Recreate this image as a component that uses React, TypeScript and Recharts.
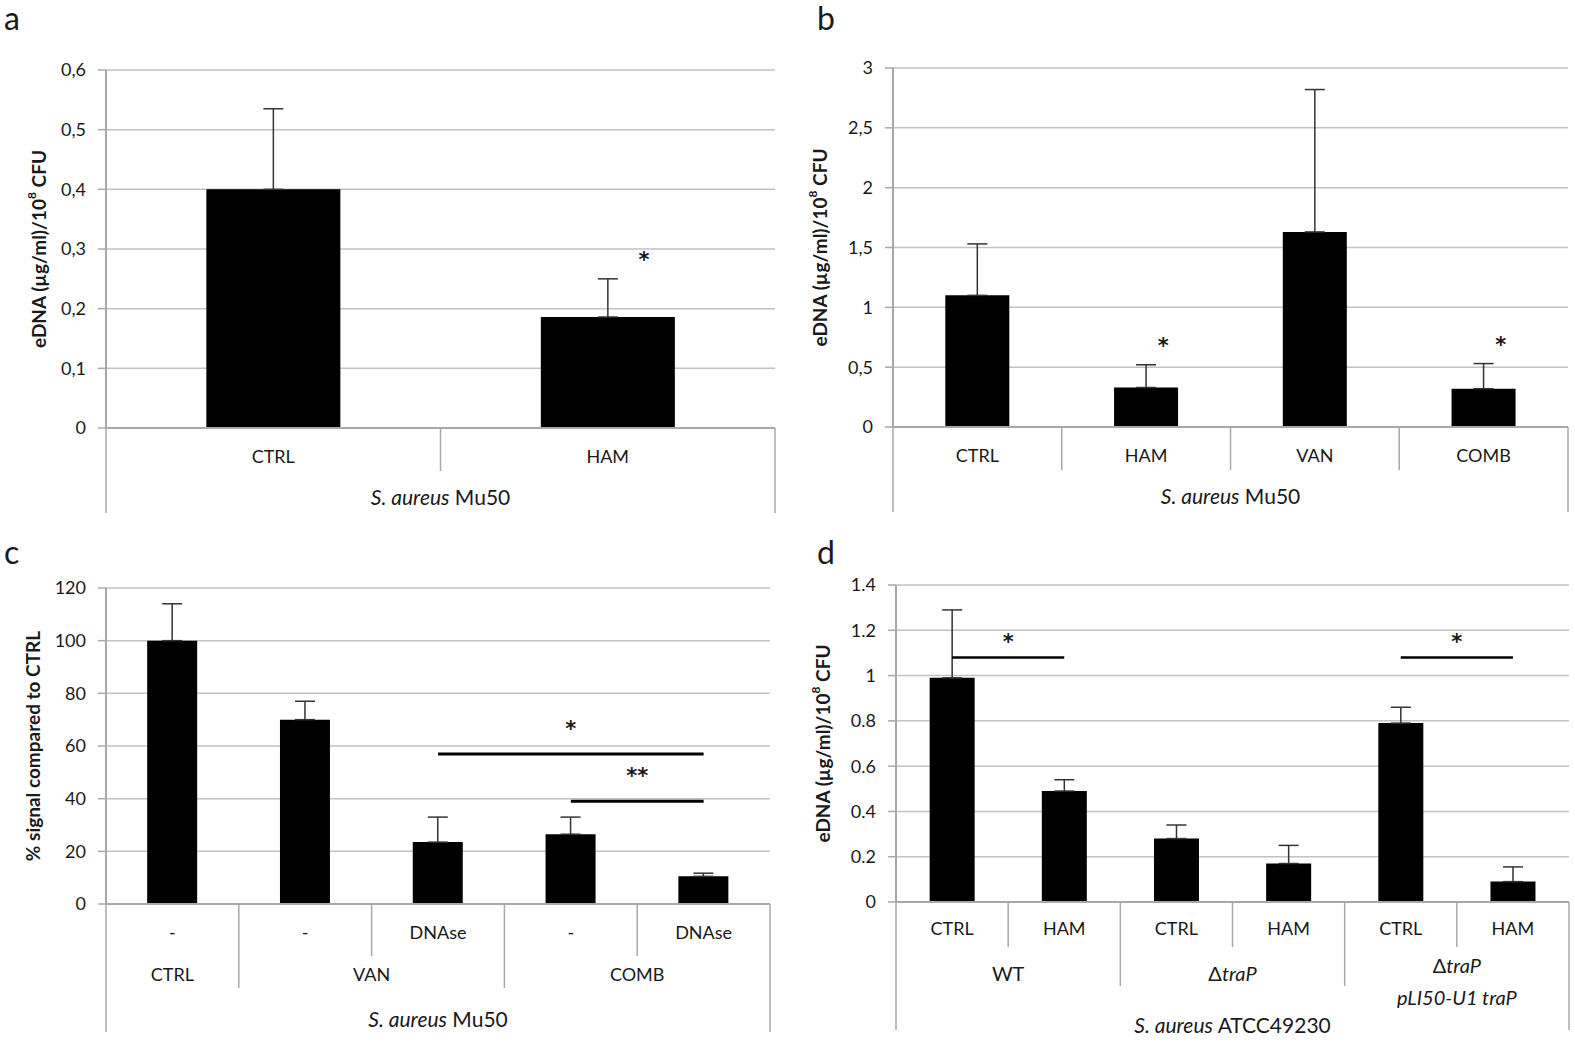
import React from 'react';
import { BarChart, Bar, XAxis, YAxis, CartesianGrid, ErrorBar, ReferenceLine, LabelList } from 'recharts';

const FONT = 'Lato, "Open Sans", sans-serif';
const STAR_FONT = '"DejaVu Sans", sans-serif';
const GRID = '#c2c2c2';
const AXIS = '#a8a8a8';
const INK = '#1a1a1a';

// panel a
const aCats = ['CTRL', 'HAM'];
const aMeans = [0.4, 0.186];
const aErrs = [0.135, 0.064];
const aSig = ['', '*'];
const aTicks = [0, 0.1, 0.2, 0.3, 0.4, 0.5, 0.6];

// panel b
const bCats = ['CTRL', 'HAM', 'VAN', 'COMB'];
const bMeans = [1.1, 0.33, 1.63, 0.32];
const bErrs = [0.43, 0.19, 1.19, 0.21];
const bSig = ['', '*', '', '*'];
const bTicks = [0, 0.5, 1, 1.5, 2, 2.5, 3];

// panel c
const cTreat = ['-', '-', 'DNAse', '-', 'DNAse'];
const cGroups = ['CTRL', 'VAN', 'VAN', 'COMB', 'COMB'];
const cMeans = [100, 70, 23.5, 26.5, 10.5];
const cErrs = [14, 7, 9.5, 6.5, 1.2];
const cTicks = [0, 20, 40, 60, 80, 100, 120];
const cLines = [
  { from: 'VAN DNAse', to: 'COMB DNAse', y: 57, mark: '*' },
  { from: 'COMB -', to: 'COMB DNAse', y: 39, mark: '**' },
];

// panel d
const dTreat = ['CTRL', 'HAM', 'CTRL', 'HAM', 'CTRL', 'HAM'];
const dStrains = ['WT', 'WT', 'traP', 'traP', 'comp', 'comp'];
const dMeans = [0.99, 0.49, 0.28, 0.17, 0.79, 0.09];
const dErrs = [0.3, 0.05, 0.06, 0.08, 0.07, 0.065];
const dTicks = [0, 0.2, 0.4, 0.6, 0.8, 1, 1.2, 1.4];
const dLines = [
  { from: 'WT CTRL', to: 'WT HAM', y: 1.08, mark: '*' },
  { from: 'comp CTRL', to: 'comp HAM', y: 1.08, mark: '*' },
];

const comma = (v: number) => String(v).replace('.', ',');

function spans(names: string[]) {
  const out: { name: string; start: number; count: number }[] = [];
  names.forEach((n, i) => {
    const last = out[out.length - 1];
    if (last && last.name === n) last.count++;
    else out.push({ name: n, start: i, count: 1 });
  });
  return out;
}

const txt = { fontFamily: FONT, fill: INK };

function makeTick(cfg: any) {
  return (props: any) => {
    const { x, y } = props;
    const i = props.index ?? props.payload?.index ?? 0;
    const n = cfg.row1.length;
    const b = cfg.band;
    const left = x - b / 2;
    const right = x + b / 2;
    const groups = cfg.groups || [];
    const isGroupEdge = groups.some((g: any) => g.start === i + 1);
    const rightLen = i === n - 1 ? cfg.outerLen : isGroupEdge ? cfg.groupLen : cfg.shortLen;
    const g = groups.find((gr: any) => gr.start === i);
    return (
      <g>
        {i === 0 && <line x1={left} x2={left} y1={y} y2={y + cfg.outerLen} stroke={AXIS} strokeWidth={1.5} />}
        <line x1={right} x2={right} y1={y} y2={y + rightLen} stroke={AXIS} strokeWidth={1.5} />
        <text x={x} y={y + cfg.row1Y} textAnchor="middle" dominantBaseline="central" fontSize={18} {...txt}>
          {cfg.row1[i]}
        </text>
        {g && <g transform={`translate(${left + (g.count * b) / 2},${y})`}>{cfg.groupNode(g.name)}</g>}
        {i === 0 && (
          <text x={left + (n * b) / 2} y={y + cfg.titleY} textAnchor="middle" dominantBaseline="central" fontSize={21} {...txt}>
            <tspan fontStyle="italic">S. aureus</tspan> {cfg.strain}
          </text>
        )}
      </g>
    );
  };
}

function yLabel(dx: number, kind: 'edna' | 'pct') {
  return (props: any) => {
    const vb = props.viewBox;
    const cx = vb.x + dx;
    const cy = vb.y + vb.height / 2;
    return (
      <text
        x={cx}
        y={cy}
        transform={`rotate(-90 ${cx} ${cy})`}
        textAnchor="middle"
        dominantBaseline="central"
        fontSize={19}
        fontWeight="bold"
        {...txt}
      >
        {kind === 'pct' ? (
          '% signal compared to CTRL'
        ) : (
          <>
            eDNA (µg/ml)/10<tspan dy={-7} fontSize={12}>8</tspan>
            <tspan dy={7}> CFU</tspan>
          </>
        )}
      </text>
    );
  };
}

function sigLabel(rows: any[]) {
  return (p: any) => {
    const vb = p.viewBox || p;
    const r = rows[p.index];
    if (!r || !r.sig) return null;
    const h = Math.abs(vb.height);
    const top = vb.height < 0 ? vb.y + vb.height : vb.y;
    const capY = top - (r.err * h) / r.mean;
    return (
      <text x={vb.x + vb.width * 0.77} y={capY - 12} textAnchor="middle" fontSize={21} fontFamily={STAR_FONT} fontWeight="bold" fill={INK}>
        {r.sig}
      </text>
    );
  };
}

const gridProps = { vertical: false, stroke: GRID, strokeWidth: 1.5 };

function yAxisProps(ticks: number[], fmt?: (v: number) => string) {
  return {
    width: 50,
    domain: [ticks[0], ticks[ticks.length - 1]] as [number, number],
    ticks,
    interval: 0 as const,
    tickFormatter: fmt,
    tick: { fontSize: 18, fill: INK, fontFamily: FONT },
    axisLine: { stroke: AXIS, strokeWidth: 2 },
    tickLine: { stroke: AXIS, strokeWidth: 1.5 },
    tickSize: 8,
    tickMargin: 12,
  };
}

function starLabel(mark: string, offset: number) {
  return { value: mark, position: 'top' as const, offset, fontSize: 21, fill: INK, fontFamily: STAR_FONT, fontWeight: 'bold' };
}

function PanelA() {
  const rows = aCats.map((c, i) => ({ key: c, mean: aMeans[i], err: aErrs[i], sig: aSig[i] }));
  const tick = makeTick({ band: 669 / 2, row1: aCats, row1Y: 28, shortLen: 43, titleY: 68, outerLen: 85, strain: 'Mu50' });
  return (
    <BarChart width={790} height={530} data={rows} margin={{ top: 70, right: 15, left: 56, bottom: 12 }} barCategoryGap="30%">
      <CartesianGrid {...gridProps} />
      <XAxis dataKey="key" height={90} interval={0} tick={tick} tickLine={false} tickSize={0} tickMargin={0} axisLine={{ stroke: AXIS, strokeWidth: 2 }} />
      <YAxis {...yAxisProps(aTicks, comma)} label={yLabel(-18, 'edna')} />
      <Bar dataKey="mean" fill="#000" isAnimationActive={false}>
        <ErrorBar dataKey={(d: any) => [0, d.err]} width={10} strokeWidth={1.5} stroke="#333" direction="y" />
        <LabelList dataKey="sig" content={sigLabel(rows)} />
      </Bar>
    </BarChart>
  );
}

function PanelB() {
  const rows = bCats.map((c, i) => ({ key: c, mean: bMeans[i], err: bErrs[i], sig: bSig[i] }));
  const tick = makeTick({ band: 675 / 4, row1: bCats, row1Y: 28, shortLen: 43, titleY: 68, outerLen: 85, strain: 'Mu50' });
  return (
    <BarChart width={785} height={530} data={rows} margin={{ top: 68, right: 7, left: 53, bottom: 13 }} barCategoryGap="31%">
      <CartesianGrid {...gridProps} />
      <XAxis dataKey="key" height={90} interval={0} tick={tick} tickLine={false} tickSize={0} tickMargin={0} axisLine={{ stroke: AXIS, strokeWidth: 2 }} />
      <YAxis {...yAxisProps(bTicks, comma)} label={yLabel(-24, 'edna')} />
      <Bar dataKey="mean" fill="#000" isAnimationActive={false}>
        <ErrorBar dataKey={(d: any) => [0, d.err]} width={10} strokeWidth={1.5} stroke="#333" direction="y" />
        <LabelList dataKey="sig" content={sigLabel(rows)} />
      </Bar>
    </BarChart>
  );
}

function PanelC() {
  const rows = cTreat.map((t, i) => ({ key: `${cGroups[i]} ${t}`, mean: cMeans[i], err: cErrs[i] }));
  const groups = spans(cGroups);
  const tick = makeTick({
    band: 664 / 5,
    row1: cTreat,
    row1Y: 28,
    shortLen: 52,
    groups,
    groupLen: 84,
    groupNode: (name: string) => (
      <text y={70} textAnchor="middle" dominantBaseline="central" fontSize={18} {...txt}>
        {name}
      </text>
    ),
    titleY: 114,
    outerLen: 128,
    strain: 'Mu50',
  });
  return (
    <BarChart width={790} height={512} data={rows} margin={{ top: 58, right: 20, left: 56, bottom: 8 }} barCategoryGap="31%">
      <CartesianGrid {...gridProps} />
      <XAxis dataKey="key" height={130} interval={0} tick={tick} tickLine={false} tickSize={0} tickMargin={0} axisLine={{ stroke: AXIS, strokeWidth: 2 }} />
      <YAxis {...yAxisProps(cTicks)} label={yLabel(-24, 'pct')} />
      <Bar dataKey="mean" fill="#000" isAnimationActive={false}>
        <ErrorBar dataKey={(d: any) => [0, d.err]} width={10} strokeWidth={1.5} stroke="#333" direction="y" />
      </Bar>
      {cLines.map((l) => (
        <ReferenceLine
          key={l.from + l.to}
          segment={[{ x: l.from, y: l.y }, { x: l.to, y: l.y }]}
          stroke="#000"
          strokeWidth={3}
          ifOverflow="visible"
          label={starLabel(l.mark, 18)}
        />
      ))}
    </BarChart>
  );
}

function PanelD() {
  const rows = dTreat.map((t, i) => ({ key: `${dStrains[i]} ${t}`, mean: dMeans[i], err: dErrs[i] }));
  const groups = spans(dStrains);
  const tick = makeTick({
    band: 673 / 6,
    row1: dTreat,
    row1Y: 26,
    shortLen: 45,
    groups,
    groupLen: 84,
    groupNode: (name: string) => {
      if (name === 'WT')
        return (
          <text y={71} textAnchor="middle" dominantBaseline="central" fontSize={20} {...txt}>
            WT
          </text>
        );
      if (name === 'traP')
        return (
          <text y={71} textAnchor="middle" dominantBaseline="central" fontSize={20} {...txt}>
            Δ<tspan fontStyle="italic">traP</tspan>
          </text>
        );
      return (
        <g>
          <text y={63} textAnchor="middle" dominantBaseline="central" fontSize={20} {...txt}>
            Δ<tspan fontStyle="italic">traP</tspan>
          </text>
          <text y={95} textAnchor="middle" dominantBaseline="central" fontSize={20} fontStyle="italic" {...txt}>
            pLI50-U1 traP
          </text>
        </g>
      );
    },
    titleY: 122,
    outerLen: 128,
    strain: 'ATCC49230',
  });
  return (
    <BarChart width={785} height={512} data={rows} margin={{ top: 55, right: 6, left: 56, bottom: 8 }} barCategoryGap="30%">
      <CartesianGrid {...gridProps} />
      <XAxis dataKey="key" height={132} interval={0} tick={tick} tickLine={false} tickSize={0} tickMargin={0} axisLine={{ stroke: AXIS, strokeWidth: 2 }} />
      <YAxis {...yAxisProps(dTicks)} label={yLabel(-24, 'edna')} />
      <Bar dataKey="mean" fill="#000" isAnimationActive={false}>
        <ErrorBar dataKey={(d: any) => [0, d.err]} width={10} strokeWidth={1.5} stroke="#333" direction="y" />
      </Bar>
      {dLines.map((l) => (
        <ReferenceLine
          key={l.from + l.to}
          segment={[{ x: l.from, y: l.y }, { x: l.to, y: l.y }]}
          stroke="#000"
          strokeWidth={2.5}
          ifOverflow="visible"
          label={starLabel(l.mark, 8)}
        />
      ))}
    </BarChart>
  );
}

const panelLetter: React.CSSProperties = { position: 'absolute', fontSize: 32, fontFamily: FONT, color: INK, lineHeight: 1 };

export default function App() {
  return (
    <div style={{ position: 'absolute', left: 0, top: 0, width: 1575, height: 1042, background: '#fff', fontFamily: FONT }}>
      <div style={{ position: 'absolute', left: 0, top: 0 }}>
        <PanelA />
      </div>
      <div style={{ position: 'absolute', left: 790, top: 0 }}>
        <PanelB />
      </div>
      <div style={{ position: 'absolute', left: 0, top: 530 }}>
        <PanelC />
      </div>
      <div style={{ position: 'absolute', left: 790, top: 530 }}>
        <PanelD />
      </div>
      <div style={{ ...panelLetter, left: 4, top: 2 }}>a</div>
      <div style={{ ...panelLetter, left: 817, top: 2 }}>b</div>
      <div style={{ ...panelLetter, left: 4, top: 536 }}>c</div>
      <div style={{ ...panelLetter, left: 817, top: 536 }}>d</div>
    </div>
  );
}
